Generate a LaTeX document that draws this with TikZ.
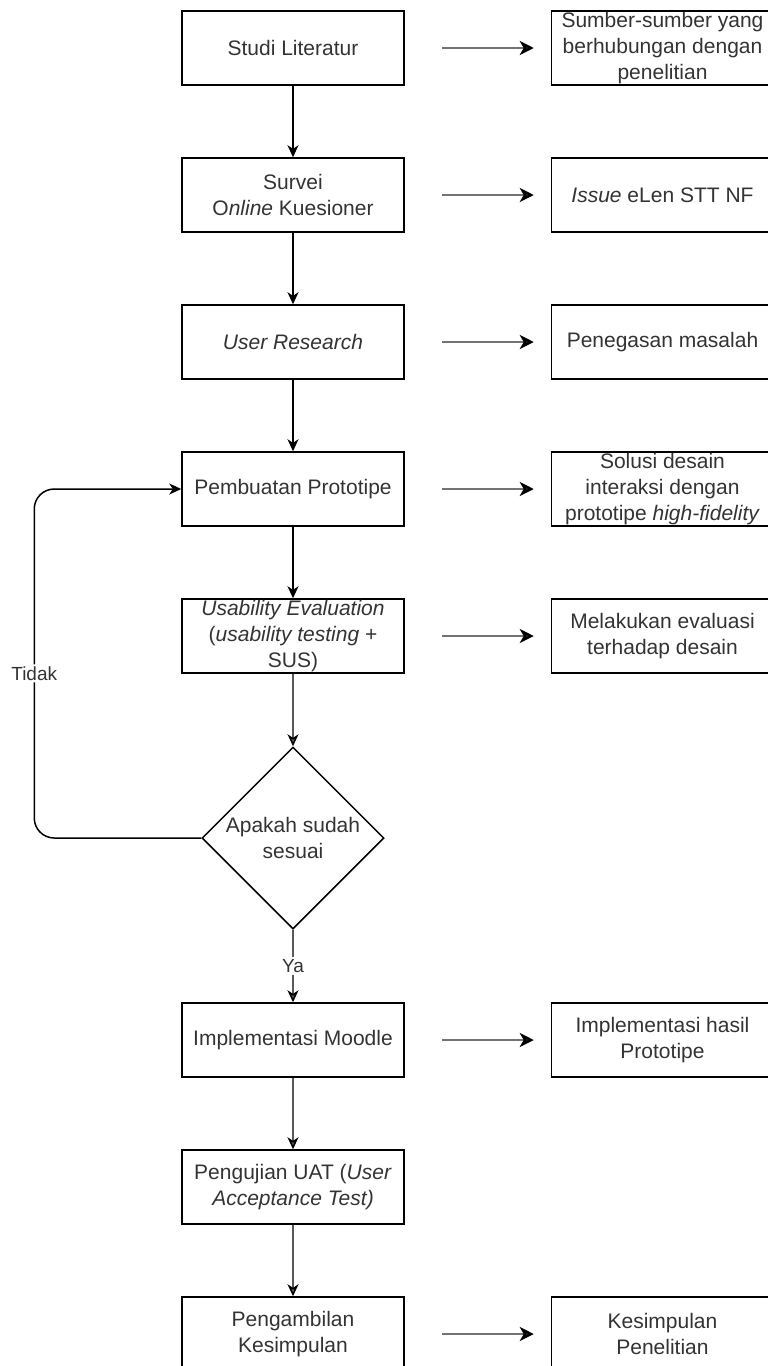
\documentclass[tikz,border=0pt]{standalone}
\usepackage{fontspec}
\setmainfont{Liberation Sans}
\usetikzlibrary{arrows.meta,positioning,shapes.geometric}

\begin{document}
\begin{tikzpicture}
  \tikzset{
    >={Stealth[length=6pt,width=5.5pt,inset=1.8pt,black]},
    node distance=73.5pt,
    every node/.style={font=\fontsize{10.5}{13}\selectfont, text=black!80},
    box/.style={draw, line width=0.75pt, minimum width=111pt, minimum height=37pt, inner sep=0pt, align=center},
    decision/.style={diamond, draw, line width=0.75pt, minimum width=91pt, minimum height=91pt, aspect=1, inner sep=0pt, align=center},
    flow/.style={->, line width=0.75pt},
    flowgray/.style={->, line width=0.75pt, color=black!65},
    result/.style={-{Stealth[length=7pt,width=7pt,inset=2pt,black]}, line width=1.3pt, color=black!55, shorten <=18.5pt, shorten >=8.5pt},
    answer/.style={font=\fontsize{9.5}{11}\selectfont, fill=white, inner sep=1pt},
  }
  \useasboundingbox (0,0) rectangle (383.5pt,-683pt);

  % main flow
  \node [box] (s1) at (146.5pt,-24pt) {Studi Literatur};
  \node [box] (s2) [below of=s1] {Survei\\O\textit{nline} Kuesioner};
  \node [box] (s3) [below of=s2] {\textit{User Research}};
  \node [box] (s4) [below of=s3] {Pembuatan Prototipe};
  \node [box] (s5) [below of=s4] {\textit{Usability Evaluation}\\(\textit{usability testing} +\\SUS)};
  \node [decision] (dec) [below of=s5, node distance=101pt] {Apakah sudah\\sesuai};
  \node [box] (s6) [below of=dec, node distance=101pt] {Implementasi Moodle};
  \node [box] (s7) [below of=s6] {Pengujian UAT (\textit{User}\\\textit{Acceptance Test)}};
  \node [box] (s8) [below of=s7] {Pengambilan\\Kesimpulan};

  % outputs
  \node [box] (r1) [right=73pt of s1] {Sumber-sumber yang\\berhubungan dengan\\penelitian};
  \node [box] (r2) [right=73pt of s2] {\textit{Issue} eLen STT NF};
  \node [box] (r3) [right=73pt of s3] {Penegasan masalah};
  \node [box] (r4) [right=73pt of s4] {Solusi desain\\interaksi dengan\\prototipe \textit{high-fidelity}};
  \node [box] (r5) [right=73pt of s5] {Melakukan evaluasi\\terhadap desain};
  \node [box] (r6) [right=73pt of s6] {Implementasi hasil\\Prototipe};
  \node [box] (r8) [right=73pt of s8] {Kesimpulan\\Penelitian};

  \path [flow]
  (s1) edge (s2)
  (s2) edge (s3)
  (s3) edge (s4)
  (s4) edge (s5);
  \path [flowgray]
  (s5) edge (dec)
  (dec) edge node[answer] {Ya} (s6)
  (s6) edge (s7)
  (s7) edge (s8);
  \path [result]
  (s1) edge (r1)
  (s2) edge (r2)
  (s3) edge (r3)
  (s4) edge (r4)
  (s5) edge (r5)
  (s6) edge (r6)
  (s8) edge (r8);

  \draw [flow, rounded corners=10pt] (dec.west) -- ++(-83.5pt,0) |- node[answer, pos=0.236] {Tidak} (s4.west);
\end{tikzpicture}
\end{document}
